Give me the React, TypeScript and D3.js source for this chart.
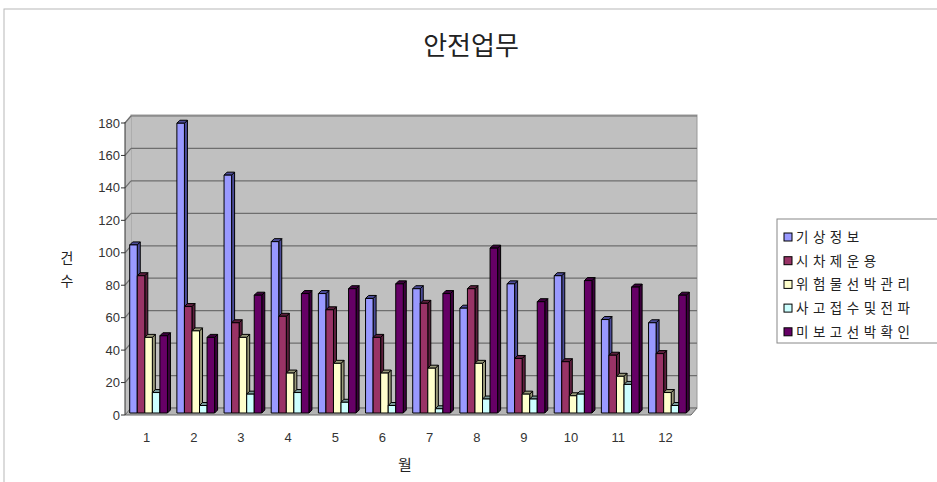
import React from "react";
import * as d3 from "d3";

const months = ["1", "2", "3", "4", "5", "6", "7", "8", "9", "10", "11", "12"];
const seriesNames = ["기상정보", "시차제운용", "위험물선박관리", "사고접수및전파", "미보고선박확인"];
const weather = [103, 178, 146, 105, 73, 70, 76, 64, 79, 84, 57, 55];
const flexTime = [84, 65, 55, 59, 63, 46, 67, 76, 33, 31, 35, 36];
const hazardShips = [46, 50, 46, 24, 30, 24, 27, 30, 11, 10, 22, 12];
const accidents = [12, 4, 11, 12, 6, 4, 2, 8, 8, 11, 17, 4];
const unreported = [47, 46, 72, 73, 76, 79, 73, 101, 68, 81, 77, 72];
const yTicks = [0, 20, 40, 60, 80, 100, 120, 140, 160, 180];

const fronts = ["#9999ff", "#993366", "#ffffcc", "#ccffff", "#660066"];
const sides = ["#4c4c99", "#5c1f3d", "#99997a", "#7a9999", "#3d003d"];

const W = 937;
const H = 482;
const left = 125, right = 691, bottom = 415, top = 123;
const dx = 6, dy = -7;
const bd = 3;
const numFont = "'Liberation Sans', Arial, sans-serif";
const krFont = "'Noto Sans CJK KR', sans-serif";

export default function App() {
    const data = [weather, flexTime, hazardShips, accidents, unreported];

    const x = d3.scaleBand().domain(months).range([left, right]).paddingInner(0.2).paddingOuter(0.1);
    const xs = d3.scaleBand().domain(seriesNames).range([0, x.bandwidth()]);
    const y = d3.scaleLinear().domain([0, 180]).range([bottom, top]);

    const wall = "#c0c0c0";
    const grid = "#6e6e6e";

    return (
        <svg width={W} height={H} style={{position: "absolute", left: 0, top: 0, background: "#fff"}}>
            <rect x={4} y={9} width={W} height={H} fill="#fff" stroke="#b8b8b8" />

            <text x={471} y={55} textAnchor="middle" fontFamily={krFont} fontSize={26} fill="#222">안전업무</text>

            {/* walls and floor */}
            <rect x={left + dx} y={top - 8} width={right - left} height={bottom + dy - (top - 8)} fill={wall} stroke="#999" />
            <polygon points={`${left},${bottom} ${left + dx},${bottom + dy} ${left + dx},${top - 8} ${left},${top - 8 - dy}`} fill={wall} />
            <polygon points={`${left},${bottom} ${right},${bottom} ${right + dx},${bottom + dy} ${left + dx},${bottom + dy}`} fill="#b4b4b4" stroke="#666" />

            {yTicks.filter(t => t > 0).map(t => (
                <g key={t}>
                    <line x1={left + dx} x2={right + dx} y1={y(t) + dy} y2={y(t) + dy} stroke={grid} strokeWidth={1.2} />
                    <line x1={left} x2={left + dx} y1={y(t)} y2={y(t) + dy} stroke={grid} strokeWidth={1.2} />
                </g>
            ))}

            {/* bars */}
            {months.map((m, i) => (
                <g key={m}>
                    {data.map((vals, s) => {
                        const x0 = (x(m) as number) + (xs(seriesNames[s]) as number);
                        const x1 = x0 + xs.bandwidth();
                        const yt = y(vals[i]) - 3;
                        const yb = bottom - 2;
                        return (
                            <g key={s} stroke="#000" strokeWidth={1} strokeLinejoin="round">
                                <polygon points={`${x1},${yt} ${x1 + bd},${yt - bd} ${x1 + bd},${yb - bd} ${x1},${yb}`} fill={sides[s]} />
                                <polygon points={`${x0},${yt} ${x0 + bd},${yt - bd} ${x1 + bd},${yt - bd} ${x1},${yt}`} fill={sides[s]} />
                                <rect x={x0} y={yt} width={x1 - x0} height={yb - yt} fill={fronts[s]} />
                            </g>
                        );
                    })}
                </g>
            ))}

            {/* y axis */}
            <line x1={left} x2={left} y1={top - 1} y2={bottom} stroke="#333" />
            {yTicks.map(t => (
                <g key={t}>
                    <line x1={left - 4} x2={left} y1={y(t)} y2={y(t)} stroke="#333" />
                    <text x={left - 5} y={y(t) + 4.5} textAnchor="end" fontFamily={numFont} fontSize={13} fill="#333">{t}</text>
                </g>
            ))}

            {/* x labels */}
            {months.map(m => (
                <text key={m} x={(x(m) as number) + x.bandwidth() / 2 - 2} y={442} textAnchor="middle" fontFamily={numFont} fontSize={13} fill="#333">{m}</text>
            ))}

            <text x={67} y={263} textAnchor="middle" fontFamily={krFont} fontSize={14} fill="#222">건</text>
            <text x={67} y={286} textAnchor="middle" fontFamily={krFont} fontSize={14} fill="#222">수</text>
            <text x={405} y={470} textAnchor="middle" fontFamily={krFont} fontSize={15} fill="#222">월</text>

            {/* legend */}
            <rect x={777} y={219} width={170} height={124} fill="#fff" stroke="#888" />
            {seriesNames.map((name, s) => {
                const ly = 237 + s * 23.7;
                return (
                    <g key={name}>
                        <rect x={784} y={ly - 4} width={8} height={8} fill={fronts[s]} stroke="#000" />
                        <text x={796} y={ly + 5} fontFamily={krFont} fontSize={13.5} letterSpacing={4.5} fill="#222">{name}</text>
                    </g>
                );
            })}
        </svg>
    );
}
